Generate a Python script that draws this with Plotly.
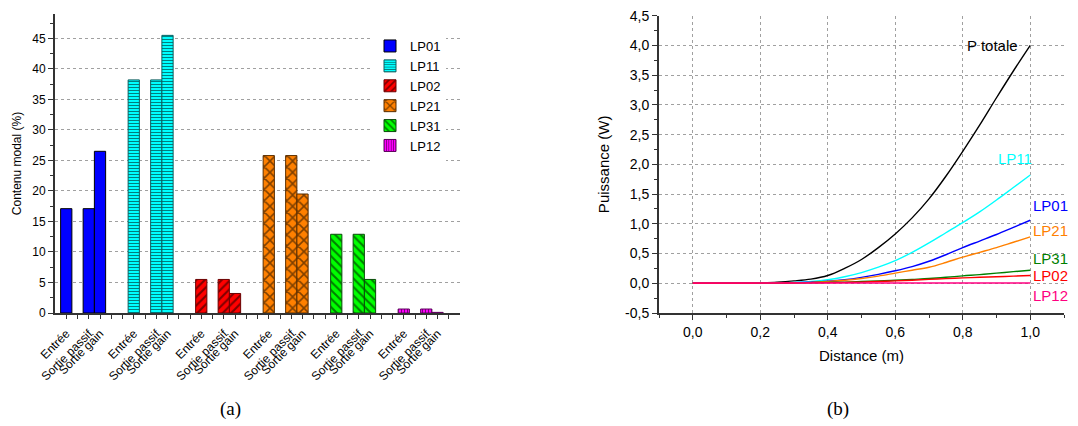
import plotly.graph_objects as go

# ---------------- Data: panel (a) ----------------
modes = ["LP01", "LP11", "LP02", "LP21", "LP31", "LP12"]
stages = ["Entrée", "Sortie passif", "Sortie gain"]
lp01_pct = [17.1, 17.1, 26.5]
lp11_pct = [38.2, 38.2, 45.5]
lp02_pct = [5.5, 5.5, 3.2]
lp21_pct = [25.8, 25.8, 19.5]
lp31_pct = [12.9, 12.9, 5.5]
lp12_pct = [0.65, 0.65, 0.1]
mode_values = [lp01_pct, lp11_pct, lp02_pct, lp21_pct, lp31_pct, lp12_pct]

bar_colors = ["#0000FF", "#00FFFF", "#FF0000", "#FF8000", "#00FF00", "#FF00FF"]
bar_lines = ["#000000", "#0B5F5F", "#6B0000", "#5A2E00", "#0B4A0B", "#5A005A"]
bar_patterns = ["", "-", "/", "x", "\\", "|"]
pattern_sizes = [6, 3, 6, 8, 6, 3]

# ---------------- Data: panel (b) ----------------
distance = [0.0, 0.05, 0.1, 0.15, 0.2, 0.25, 0.3, 0.35, 0.4, 0.45, 0.5,
            0.55, 0.6, 0.65, 0.7, 0.75, 0.8, 0.85, 0.9, 0.95, 1.0]
p_totale = [0.0, 0.0, 0.0, 0.004, 0.01, 0.02, 0.04, 0.07, 0.13, 0.25, 0.40,
            0.60, 0.83, 1.10, 1.42, 1.80, 2.22, 2.66, 3.12, 3.57, 4.0]
p_lp11 = [0.0, 0.0, 0.0, 0.0, 0.002, 0.005, 0.015, 0.03, 0.06, 0.11, 0.18,
          0.27, 0.38, 0.52, 0.68, 0.85, 1.02, 1.20, 1.40, 1.61, 1.82]
p_lp01 = [0.0, 0.0, 0.0, 0.0, 0.002, 0.005, 0.01, 0.02, 0.035, 0.06, 0.10,
          0.15, 0.21, 0.28, 0.37, 0.48, 0.60, 0.71, 0.82, 0.94, 1.06]
p_lp21 = [0.0, 0.0, 0.0, 0.0, 0.002, 0.004, 0.008, 0.015, 0.03, 0.05, 0.08,
          0.12, 0.17, 0.22, 0.27, 0.35, 0.44, 0.52, 0.60, 0.69, 0.78]
p_lp31 = [0.0, 0.0, 0.0, 0.0, 0.002, 0.003, 0.005, 0.01, 0.015, 0.02, 0.03,
          0.04, 0.05, 0.065, 0.08, 0.10, 0.125, 0.145, 0.17, 0.195, 0.22]
p_lp02 = [0.0, 0.0, 0.0, 0.0, 0.002, 0.003, 0.005, 0.007, 0.01, 0.015, 0.02,
          0.03, 0.04, 0.052, 0.065, 0.078, 0.09, 0.10, 0.11, 0.12, 0.13]
p_lp12 = [0.005] * 21

curve_names = ["P totale", "LP11", "LP01", "LP21", "LP31", "LP02", "LP12"]
curve_values = [p_totale, p_lp11, p_lp01, p_lp21, p_lp31, p_lp02, p_lp12]
curve_colors = ["#000000", "#00FFFF", "#0000FF", "#FF8000", "#008000", "#FF0000", "#FF0080"]
# label anchors (x, y, xanchor)
label_pos = [(0.97, 4.0, "right"), (0.955, 2.10, "center"), (1.002, 1.30, "left"),
             (1.002, 0.88, "left"), (1.002, 0.415, "left"), (1.002, 0.135, "left"),
             (1.002, -0.20, "left")]

# tick labels of panel (b) (comma decimal, plain hyphen minus)
power_ticks = [-0.5, 0.0, 0.5, 1.0, 1.5, 2.0, 2.5, 3.0, 3.5, 4.0, 4.5]
power_ticktext = ["-0,5", "0,0", "0,5", "1,0", "1,5", "2,0", "2,5", "3,0", "3,5", "4,0", "4,5"]

FONT = "Liberation Sans, Arial, sans-serif"
AXIS_COLOR = "#333333"
GRID_COLOR = "#a0a0a0"

OFF = 8  # default page body margin
W, H = 1078 - OFF, 426 - OFF
S_L, S_R, S_T, S_B = 55, 1064, 14, 312.7
ML, MT = S_L - OFF, S_T - OFF
MR = W - (S_R - OFF)
MB = H - (S_B - OFF)
PW = W - ML - MR
PH = H - MT - MB


def xd(sx):
    return (sx - OFF - ML) / PW


def yd(sy):
    return (H - MB - (sy - OFF)) / PH


fig = go.Figure()

# bar positions: each mode group spans 6 slots; stages at offsets 0, 2, 3
offsets = [0, 2, 3]
tickvals = list(range(0, 35))
ticktext = [""] * len(tickvals)
for g in range(len(modes)):
    for k, off in enumerate(offsets):
        ticktext[g * 6 + off] = stages[k]

for g, name in enumerate(modes):
    xs = [g * 6 + off for off in offsets]
    pattern = dict(shape=bar_patterns[g], fgcolor="#000000", bgcolor=bar_colors[g],
                   fillmode="overlay", size=pattern_sizes[g], solidity=0.35)
    fig.add_trace(go.Bar(
        x=xs, y=mode_values[g], width=1, name=name,
        marker=dict(color=bar_colors[g], line=dict(color=bar_lines[g], width=1),
                    pattern=pattern),
        xaxis="x", yaxis="y", showlegend=True,
    ))

for i, name in enumerate(curve_names):
    fig.add_trace(go.Scatter(
        x=distance, y=curve_values[i], mode="lines", name=name,
        line=dict(color=curve_colors[i], width=1.4, shape="spline"),
        xaxis="x2", yaxis="y2", showlegend=False,
    ))

annotations = []
for i, name in enumerate(curve_names):
    lx, ly, anc = label_pos[i]
    annotations.append(dict(x=lx, y=ly, xref="x2", yref="y2", text=name, showarrow=False,
                            xanchor=anc, yanchor="middle",
                            font=dict(family=FONT, size=15, color=curve_colors[i])))
for txt, sx in (("(a)", 230), ("(b)", 838)):
    annotations.append(dict(x=xd(sx), y=yd(409), xref="paper", yref="paper",
                            text=txt, showarrow=False, xanchor="center", yanchor="middle",
                            font=dict(family="Liberation Serif, serif", size=19, color="#000")))

fig.update_layout(
    width=W, height=H,
    margin=dict(l=ML, r=MR, t=MT, b=MB, autoexpand=False),
    paper_bgcolor="white", plot_bgcolor="white",
    font=dict(family=FONT, color="#000"),
    separators=", ",
    barmode="overlay",
    showlegend=True,
    legend=dict(x=xd(370), y=yd(31), xanchor="left", yanchor="top",
                bgcolor="white", borderwidth=0, font=dict(size=13, family=FONT),
                tracegroupgap=0, itemwidth=30),
    annotations=annotations,
    xaxis=dict(domain=[xd(55), xd(460)], range=[-1, 35], anchor="y", automargin=False,
               tickmode="array", tickvals=tickvals, ticktext=ticktext, tickangle=-45,
               ticks="outside", ticklen=4, tickcolor=AXIS_COLOR, ticklabelstandoff=3,
               tickfont=dict(size=12), showline=True, linecolor=AXIS_COLOR, linewidth=2,
               showgrid=False, zeroline=False),
    yaxis=dict(domain=[yd(312.7), yd(14)], range=[0, 49], anchor="x", automargin=False,
               tick0=0, dtick=5, ticks="outside", ticklen=5, tickcolor=AXIS_COLOR,
               tickfont=dict(size=12),
               minor=dict(ticks="outside", dtick=2.5, ticklen=3, tickcolor=AXIS_COLOR,
                          showgrid=False),
               showline=True, linecolor=AXIS_COLOR, linewidth=2,
               showgrid=True, gridcolor=GRID_COLOR, griddash="dot", gridwidth=1,
               zeroline=False,
               title=dict(text="Contenu modal (%)", font=dict(size=12), standoff=8)),
    xaxis2=dict(domain=[xd(659), xd(1064)], range=[-0.1, 1.1], anchor="y2", automargin=False,
                tick0=0, dtick=0.2, tickformat=".1f", ticks="outside", ticklen=5,
                tickcolor=AXIS_COLOR, tickfont=dict(size=14),
                minor=dict(ticks="outside", tick0=0, dtick=0.1, ticklen=3,
                           tickcolor=AXIS_COLOR, showgrid=False),
                showline=True, linecolor=AXIS_COLOR, linewidth=2,
                showgrid=True, gridcolor=GRID_COLOR, griddash="dot", gridwidth=1,
                zeroline=False,
                title=dict(text="Distance (m)", font=dict(size=15), standoff=12)),
    yaxis2=dict(domain=[yd(312.7), yd(15.7)], range=[-0.5, 4.5], automargin=False,
                anchor="x2", tickmode="array", tickvals=power_ticks, ticktext=power_ticktext,
                ticklabeloverflow="allow",
                ticks="outside", ticklen=5, tickcolor=AXIS_COLOR, tickfont=dict(size=14),
                minor=dict(ticks="outside", tickmode="linear", tick0=-0.5, dtick=0.25,
                           ticklen=3, tickcolor=AXIS_COLOR, showgrid=False),
                showline=True, linecolor=AXIS_COLOR, linewidth=2,
                showgrid=True, gridcolor=GRID_COLOR, griddash="dot", gridwidth=1,
                zeroline=False,
                title=dict(text="Puissance (W)", font=dict(size=15), standoff=12)),
)

fig.write_html("out.html")
